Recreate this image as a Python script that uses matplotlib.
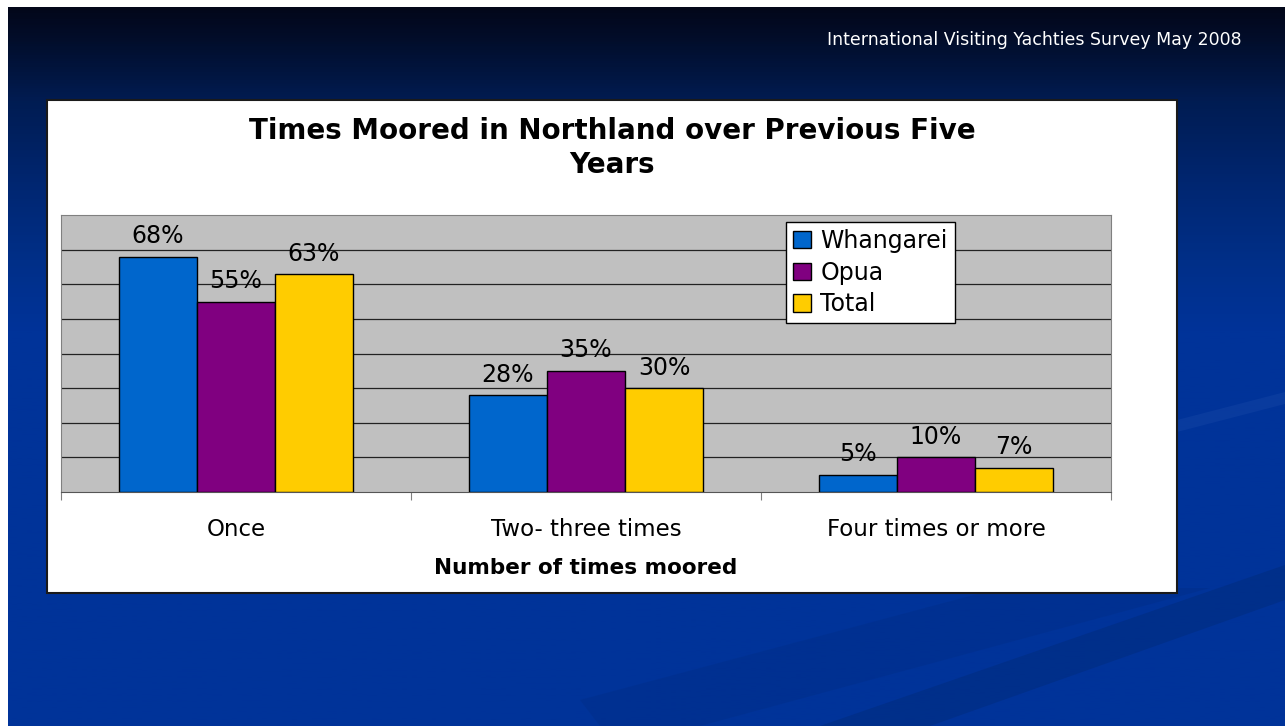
import numpy as np
import matplotlib
matplotlib.use('Agg')
import matplotlib.pyplot as plt
from matplotlib.colors import LinearSegmentedColormap
from matplotlib.patches import Rectangle, Polygon

categories = ['Once', 'Two- three times', 'Four times or more']
series = ['Whangarei', 'Opua', 'Total']
whangarei = [68, 28, 5]
opua = [55, 35, 10]
total = [63, 30, 7]
colors = ['#0066CC', '#800080', '#FFCC00']

W, H = 1285, 726
fig = plt.figure(figsize=(W / 100, H / 100), dpi=100, facecolor='white')

# slide background, drawn in pixel units
bg = fig.add_axes([0, 0, 1, 1])
bg.set_xlim(0, W)
bg.set_ylim(H, 0)
bg.axis('off')

stops = [(0.0, '#03071a'), (0.046, '#020e2c'), (0.129, '#011c52'),
         (0.241, '#002670'), (0.352, '#002f88'), (0.449, '#003399'),
         (1.0, '#003399')]
cmap = LinearSegmentedColormap.from_list('slide', stops)
grad = np.linspace(0, 1, 600).reshape(-1, 1)
bg.imshow(grad, extent=(8, W, H, 7), aspect='auto', cmap=cmap, zorder=0)

# faint swooshes in the lower right
bg.add_patch(Polygon([(580, 700), (1000, 588), (1210, 588), (700, 726), (600, 726)],
                     closed=True, fc='#002a7a', alpha=0.25, lw=0, zorder=1))
bg.add_patch(Polygon([(820, 726), (1285, 565), (1285, 600), (930, 726)],
                     closed=True, fc='#00286f', alpha=0.35, lw=0, zorder=1))
bg.add_patch(Polygon([(1177, 420), (1285, 392), (1285, 404), (1177, 432)],
                     closed=True, fc='#1a4aa8', alpha=0.35, lw=0, zorder=1))

# white chart box
bg.add_patch(Rectangle((47, 100), 1130, 493, fc='white', ec='#1a1a1a', lw=1.5, zorder=2))

bg.text(1242, 40, 'International Visiting Yachties Survey May 2008', color='white',
        ha='right', va='center', fontsize=12.5, family='DejaVu Sans', zorder=3)
bg.text(612, 148, 'Times Moored in Northland over Previous Five\nYears', ha='center',
        va='center', fontsize=20, fontweight='bold', linespacing=1.25, zorder=3)

ax = fig.add_axes([61 / W, (H - 492) / H, 1050 / W, 277 / H])
ax.set_facecolor('#C0C0C0')
x = np.arange(len(categories))
w = 0.2229
for i, (vals, name, c) in enumerate(zip([whangarei, opua, total], series, colors)):
    bars = ax.bar(x + (i - 1) * w, vals, w, color=c, edgecolor='black', linewidth=1,
                  label=name, zorder=3)
    ax.bar_label(bars, labels=[f'{v}%' for v in vals], padding=6, fontsize=17)

ax.set_xlim(-0.5, 2.5)
ax.set_ylim(0, 80)
ax.set_yticks(range(10, 80, 10))
ax.yaxis.grid(True, color='#222222', lw=0.9)
ax.set_axisbelow(True)
ax.tick_params(axis='y', length=0, labelleft=False)
for s in ['top', 'left', 'right']:
    ax.spines[s].set_color('#808080')
ax.spines['bottom'].set_color('#555555')

ax.set_xticks([-0.5, 0.5, 1.5, 2.5])
ax.tick_params(axis='x', which='major', length=6, color='#808080', labelbottom=False)
ax.set_xticks(x, minor=True)
ax.set_xticklabels(categories, minor=True, fontsize=16.5)
ax.tick_params(axis='x', which='minor', length=0, pad=19)
ax.set_xlabel('Number of times moored', fontsize=15.5, fontweight='bold', labelpad=12)

leg = ax.legend(loc='upper left', bbox_to_anchor=(786 / W, 1 - 222 / H),
                bbox_transform=fig.transFigure, fancybox=False, edgecolor='black',
                framealpha=1, fontsize=17, handlelength=0.75, handleheight=0.75,
                handletextpad=0.4, labelspacing=0.32, borderpad=0.3, borderaxespad=0)
leg.get_frame().set_linewidth(1)

fig.savefig('out.png', dpi=100, facecolor='white')
